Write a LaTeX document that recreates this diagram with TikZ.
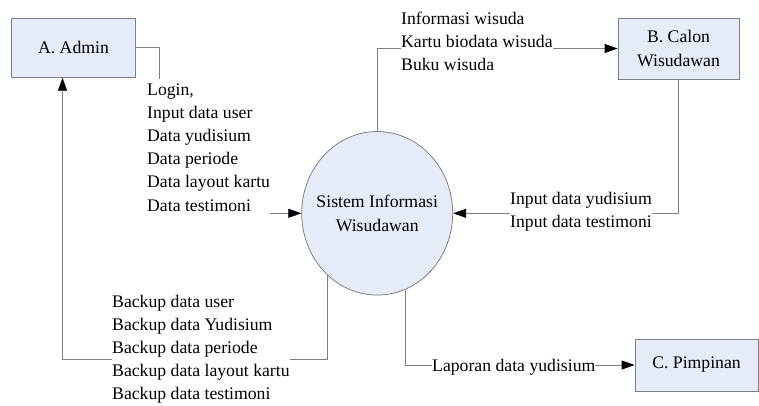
\documentclass[tikz,border=0pt]{standalone}
\usepackage{fontspec}
\setmainfont{Liberation Serif}
\usetikzlibrary{arrows.meta,shapes.geometric}
\definecolor{boxfill}{RGB}{230,236,247}
\definecolor{linegray}{RGB}{128,128,128}
\newcommand\lbltab[1]{\begin{tabular}[t]{@{}l@{}}#1\end{tabular}}
\begin{document}
\begin{tikzpicture}[x=1pt,y=-1pt,
  every node/.style={font=\fontsize{17.7}{23.2}\selectfont},
  entity/.style={draw=linegray, fill=boxfill, line width=0.8pt, inner sep=0pt, align=center},
  proc/.style={ellipse, draw=linegray, fill=boxfill, line width=0.8pt, minimum width=151pt, minimum height=163.5pt, inner sep=0pt},
  flow/.style={draw=linegray, line width=0.8pt, -{Triangle[length=13pt,width=9pt,color=black]}},
  lbl/.style={fill=white, inner sep=0pt, anchor=base west},
]
\useasboundingbox (0,0) rectangle (759,405);

\node[entity, minimum width=124pt, minimum height=59pt] (admin) at (73.5,47.8) {A. Admin};
\node[entity, minimum width=121pt, minimum height=61pt] (calon) at (678.5,48.5) {B. Calon\\Wisudawan};
\node[entity, minimum width=123pt, minimum height=52pt] (pimp) at (696.5,365) {C. Pimpinan};
\node[proc] (sys) at (377.2,213.3) {};
\node[align=center, inner sep=0pt] (systext) at (sys.center) {Sistem Informasi\\Wisudawan};

\coordinate (c1) at (159.3,130);
\coordinate (c2) at (62.5,359.3);

\draw[flow] (admin.east) -| (c1) |- (sys.west);
\draw[flow] (sys.north) |- (calon.west);
\draw[flow] (calon.south) |- (sys.east);
\draw[flow] (sys.231) |- (c2) -- (admin.south -| c2);
\draw[flow] (sys.290) |- (pimp.west);

\node[lbl] (l1) at (147,95) {\lbltab{Login,\\Input data user\\Data yudisium\\Data periode\\Data layout kartu\\Data testimoni}};
\node[lbl] (l2) at (401,24.5) {\lbltab{Informasi wisuda\\Kartu biodata wisuda\\Buku wisuda}};
\node[lbl] (l3) at (510,204) {\lbltab{Input data yudisium\\Input data testimoni}};
\node[lbl] (l4) at (112,307) {\lbltab{Backup data user\\Backup data Yudisium\\Backup data periode\\Backup data layout kartu\\Backup data testimoni}};
\node[lbl] (l5) at (432,371.5) {\lbltab{Laporan data yudisium}};
\end{tikzpicture}
\end{document}
